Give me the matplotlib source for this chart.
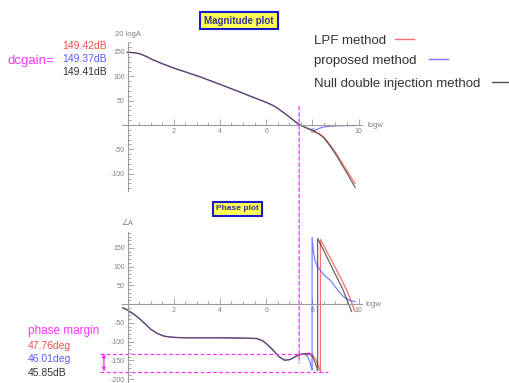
import matplotlib
matplotlib.use("Agg")
import matplotlib.pyplot as plt
from matplotlib.ticker import MultipleLocator, FixedLocator
from matplotlib.patches import ConnectionPatch
from matplotlib.lines import Line2D

plt.rcParams['font.family'] = ['Liberation Sans', 'DejaVu Sans']
plt.rcParams['axes.unicode_minus'] = False

W, H = 509, 383

# Magnitude (20 logA) vs logw
mag_common_x = [0.0, 0.3, 0.55, 0.8, 1.1, 1.5, 2.0, 3.14, 4.58, 6.03, 6.3, 6.46, 6.8, 7.1, 7.42, 7.8, 8.05]
mag_common_y = [149.4, 148.5, 146, 141, 134, 126, 117, 99, 73, 46, 40, 35.6, 24, 13, 1, -7, -12]
mag_red_x = [8.05, 8.3, 8.5, 8.77, 9.0, 9.2, 9.5, 9.85]
mag_red_y = [-12, -18, -25, -41, -56, -71, -94, -120]
mag_black_x = [8.05, 8.3, 8.5, 8.77, 9.0, 9.2, 9.5, 9.85]
mag_black_y = [-12, -19, -26, -43, -59, -75, -99, -128]
mag_blue_x = [8.05, 8.2, 8.35, 8.5, 8.7, 9.0, 9.4, 9.85]
mag_blue_y = [-12, -9, -6, -4, -2.8, -1.8, -1.3, -1.0]

# Phase (deg) vs logw
ph_common_x = [-0.2, 0.0, 0.25, 0.5, 0.8, 1.0, 1.3, 1.6, 2.0, 2.5, 3.0, 4.0, 5.0, 5.6, 5.85, 6.05, 6.3, 6.55, 6.8, 7.05, 7.3, 7.55, 7.7]
ph_common_y = [-10, -16, -26, -38, -55, -67, -79, -86, -89, -90, -90, -90, -91, -92, -98, -108, -123, -140, -150, -148, -139, -133, -133]
ph_red_x = [7.7, 7.85, 8.0, 8.15, 8.28, 8.35, 8.35, 8.5, 9.06, 9.5, 9.85]
ph_red_y = [-133, -131, -134, -148, -168, -180, 172, 155, 90, 36, -20]
ph_black_x = [7.7, 7.85, 8.0, 8.12, 8.2, 8.23, 8.23, 8.5, 8.91, 9.3, 9.7]
ph_black_y = [-133, -132, -139, -156, -170, -178, 175, 142, 90, 42, -20]
ph_blue_x = [7.7, 7.8, 7.9, 7.96, 7.99, 7.99, 8.05, 8.12, 8.22, 8.5, 8.77, 9.0, 9.34, 9.6, 9.85]
ph_blue_y = [-135, -140, -155, -170, -176, 178, 140, 115, 100, 78, 64, 45, 20, 10, 6]

dc_gains = ["149.42dB", "149.37dB", "149.41dB"]
phase_margins = ["47.76deg", "46.01deg", "45.85dB"]
series_names = ["LPF method", "proposed method", "Null double injection method"]
crossover_logw = 7.43
pm_level = -132.24

RED, BLUE, BLACK = "#ff4d4d", "#5c5cff", "#333333"
MAG = "#ff33ff"
AXC = "#9a9a9a"
TXT = "#333333"


def fx(x):
    return x / W


def fy(y):
    return 1 - y / H


fig = plt.figure(figsize=(W / 100, H / 100), dpi=100)
ax_m = fig.add_axes([0.2369, 0.502, 0.4947, 0.3877])
ax_p = fig.add_axes([0.2369, 0.0026, 0.4947, 0.3945])


def style(ax, xlim, ylim, ybounds, yticks):
    ax.set_xlim(*xlim)
    ax.set_ylim(*ylim)
    ax.patch.set_alpha(0)
    for s in ("top", "right"):
        ax.spines[s].set_visible(False)
    ax.spines["bottom"].set_position(("data", 0))
    ax.spines["left"].set_position(("data", 0))
    ax.spines["bottom"].set_bounds(-0.25, 10.15)
    ax.spines["left"].set_bounds(*ybounds)
    for s in ("bottom", "left"):
        ax.spines[s].set_color(AXC)
        ax.spines[s].set_linewidth(0.8)
    ax.xaxis.set_major_locator(FixedLocator([2, 4, 6, 8, 10]))
    ax.xaxis.set_minor_locator(FixedLocator([v * 0.5 for v in range(1, 21) if v % 4]))
    ax.yaxis.set_major_locator(FixedLocator(yticks))
    ax.yaxis.set_minor_locator(MultipleLocator(10))
    ax.tick_params(which="both", direction="in", colors=AXC, labelcolor="#808080",
                   labelsize=5, width=0.6, pad=2)
    ax.tick_params(which="major", length=4)
    ax.tick_params(which="minor", length=2)


style(ax_m, (-0.3, 10.6), (-135, 170), (-135, 168), [-100, -50, 50, 100, 150])
style(ax_p, (-0.3, 10.6), (-208, 195), (-208, 192), [-200, -150, -100, -50, 50, 100, 150])

lw = 0.9
# magnitude curves
ax_m.plot(mag_common_x, mag_common_y, color=RED, lw=lw, alpha=0.7)
ax_m.plot(mag_common_x, mag_common_y, color=BLUE, lw=lw, alpha=0.7)
ax_m.plot(mag_common_x, mag_common_y, color=BLACK, lw=lw, alpha=0.6)
ax_m.plot(mag_red_x, mag_red_y, color=RED, lw=lw, alpha=0.8)
ax_m.plot(mag_blue_x, mag_blue_y, color=BLUE, lw=lw, alpha=0.8)
ax_m.plot(mag_black_x, mag_black_y, color=BLACK, lw=lw, alpha=0.75)

# phase curves
ax_p.plot(ph_common_x, ph_common_y, color=RED, lw=lw, alpha=0.7)
ax_p.plot(ph_common_x, ph_common_y, color=BLUE, lw=lw, alpha=0.7)
ax_p.plot(ph_common_x, ph_common_y, color=BLACK, lw=lw, alpha=0.6)
ax_p.plot(ph_red_x, ph_red_y, color=RED, lw=lw, alpha=0.8)
ax_p.plot(ph_blue_x, ph_blue_y, color=BLUE, lw=lw, alpha=0.8)
ax_p.plot(ph_black_x, ph_black_y, color=BLACK, lw=lw, alpha=0.75)

# axis labels
ax_m.text(0, 178, "20 logA", fontsize=5.5, color="#808080", ha="center", va="bottom")
ax_m.text(10.37, 0, "logw", fontsize=5.5, color="#808080", ha="left", va="center")
ax_p.text(0, 205, "\u2220A", fontsize=5.5, color="#808080", ha="center", va="bottom")
ax_p.text(10.3, 0, "logw", fontsize=5.5, color="#808080", ha="left", va="center")

# crossover dashed line spanning both plots
con = ConnectionPatch(xyA=(crossover_logw, 38), coordsA=ax_m.transData,
                      xyB=(crossover_logw, -158), coordsB=ax_p.transData,
                      color=MAG, lw=0.9, linestyle=(0, (3, 2)), zorder=5)
fig.add_artist(con)

# phase margin lines and arrow
ax_p.plot([-1.19, 7.9], [pm_level, pm_level], color=MAG, lw=0.9,
          linestyle=(0, (3, 2)), clip_on=False)
ax_p.plot([-1.19, 8.68], [-180, -180], color=MAG, lw=0.9,
          linestyle=(0, (3, 2)), clip_on=False)
ax_p.annotate("", xy=(-1.02, -180), xytext=(-1.02, pm_level),
              arrowprops=dict(arrowstyle="<|-|>", color=MAG, lw=1.0,
                              mutation_scale=5, shrinkA=0, shrinkB=0),
              annotation_clip=False)

# title boxes
box = dict(boxstyle="square,pad=0.4", facecolor="#ffff55", edgecolor="#1a1acc", lw=1.5)
fig.text(fx(239), fy(20.5), "Magnitude plot", fontsize=7, fontweight="bold",
         color="#333399", ha="center", va="center", bbox=box)
fig.text(fx(237.5), fy(209), "Phase plot", fontsize=6, fontweight="bold",
         color="#333399", ha="center", va="center", bbox=box)

# legend
colors = [RED, BLUE, BLACK]
leg_y = [40.7, 61, 84]
leg_line = [(395, 414), (429, 448), (492, 512)]
for name, c, y, (x0, x1) in zip(series_names, colors, leg_y, leg_line):
    fig.text(fx(314), fy(y), name, fontsize=9.5, color=TXT, ha="left", va="center")
    fig.add_artist(Line2D([fx(x0), fx(x1)], [fy(y - 2), fy(y - 2)], color=c, lw=1.0,
                          alpha=0.85, transform=fig.transFigure))

# dc gain annotations
fig.text(fx(8), fy(61), "dcgain=", fontsize=9.5, color=MAG, ha="left", va="center")
for txt, c, y in zip(dc_gains, colors, [45.7, 58.7, 71.7]):
    fig.text(fx(62), fy(y), txt, fontsize=7.5, color=c, ha="left", va="center")

# phase margin annotations
fig.text(fx(28), fy(330.7), "phase margin", fontsize=8.5, color=MAG, ha="left", va="center")
for txt, c, y in zip(phase_margins, colors, [345.7, 359, 372.7]):
    fig.text(fx(28), fy(y), txt, fontsize=7.5, color=c, ha="left", va="center")

fig.savefig("out.png", dpi=100)
